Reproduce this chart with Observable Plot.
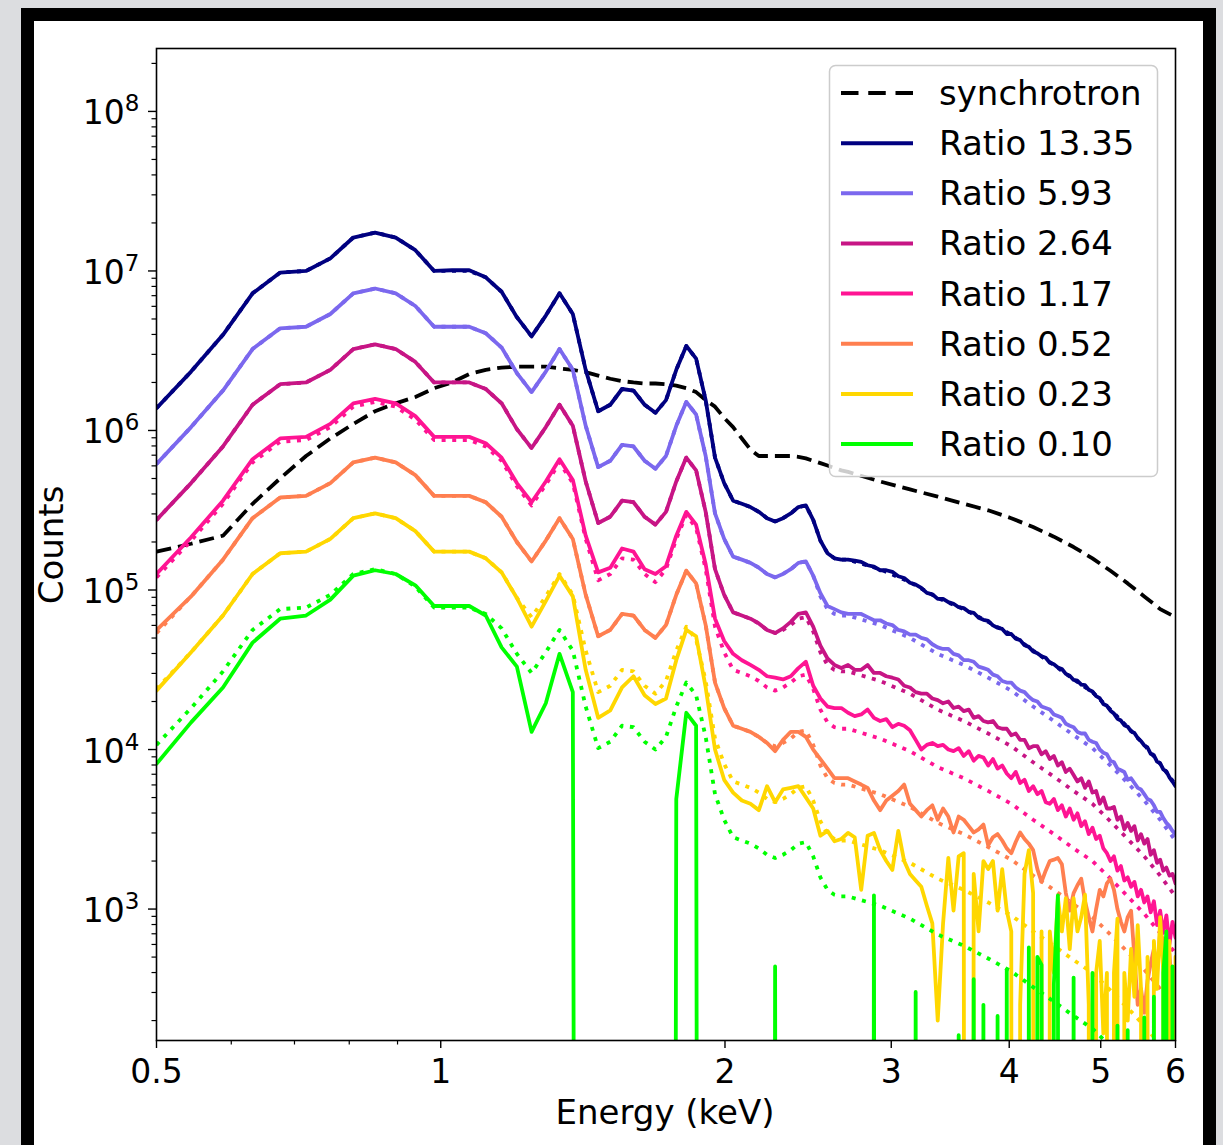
<!DOCTYPE html>
<html><head><meta charset="utf-8">
<script src="https://cdn.jsdelivr.net/npm/d3@7"></script>
<script src="https://cdn.jsdelivr.net/npm/@observablehq/plot@0.6"></script>
<style>
html,body{margin:0;padding:0;}
body{width:1223px;height:1145px;background:#dcdde0;position:relative;overflow:hidden;font-family:"DejaVu Sans",sans-serif;}
#frame{position:absolute;left:21px;top:8px;width:1195px;height:1150px;box-sizing:border-box;border:13px solid #000;background:#fff;}
#chart{position:absolute;left:0;top:0;}
#overlay{position:absolute;left:0;top:0;}
</style></head>
<body>
<div id="frame"></div>
<div id="chart"></div>
<svg id="overlay" width="1223" height="1145"></svg>
<script>
// Energy bins (keV) of the spectra
const energy = [0.500,0.544,0.588,0.632,0.676,0.720,0.764,0.808,0.852,0.896,
0.940,0.984,1.028,1.072,1.116,1.160,1.204,1.248,1.292,1.336,
1.380,1.424,1.468,1.512,1.556,1.600,1.644,1.688,1.732,1.776,
1.820,1.864,1.908,1.952,1.996,2.040,2.084,2.128,2.172,2.216,
2.260,2.304,2.348,2.392,2.436,2.480,2.524,2.568,2.612,2.656,
2.700,2.744,2.788,2.832,2.876,2.920,2.964,3.008,3.052,3.096,
3.140,3.184,3.228,3.272,3.316,3.360,3.404,3.448,3.492,3.536,
3.580,3.624,3.668,3.712,3.756,3.800,3.844,3.888,3.932,3.976,
4.020,4.064,4.108,4.152,4.196,4.240,4.284,4.328,4.372,4.416,
4.460,4.504,4.548,4.592,4.636,4.680,4.724,4.768,4.812,4.856,
4.900,4.944,4.988,5.032,5.076,5.120,5.164,5.208,5.252,5.296,
5.340,5.384,5.428,5.472,5.516,5.560,5.604,5.648,5.692,5.736,
5.780,5.824,5.868,5.912,5.956,6.000];

// Energies of the smooth model curves (dotted) and synchrotron
const energyModel = [0.500,0.544,0.588,0.632,0.676,0.720,0.764,0.808,0.852,0.896,
0.940,0.984,1.028,1.072,1.116,1.160,1.204,1.248,1.292,1.336,
1.380,1.424,1.468,1.512,1.556,1.600,1.644,1.688,1.732,1.776,
1.820,1.864,1.908,1.952,1.996,2.040,2.084,2.128,2.172,2.216,
2.260,2.304,2.348,2.392,2.436,2.480,2.524,2.568,2.612,2.656,
2.700,2.920,3.140,3.360,3.580,3.800,4.020,4.240,4.460,4.680,
4.900,5.120,5.340,5.560,5.780,6.000];

const synchrotron = [1.74e5,1.95e5,2.19e5,3.47e5,5.01e5,6.92e5,8.91e5,1.10e6,1.32e6,1.48e6,
1.62e6,1.84e6,2.00e6,2.26e6,2.40e6,2.48e6,2.51e6,2.51e6,2.51e6,2.45e6,
2.40e6,2.32e6,2.21e6,2.11e6,2.04e6,2.00e6,1.97e6,1.97e6,1.95e6,1.91e6,
1.84e6,1.74e6,1.55e6,1.41e6,1.20e6,1.05e6,8.91e5,7.59e5,6.92e5,6.92e5,
6.92e5,6.92e5,6.92e5,6.84e5,6.68e5,6.46e5,6.24e5,6.03e5,5.82e5,5.62e5,
5.50e5,4.79e5,4.27e5,3.85e5,3.47e5,3.16e5,2.82e5,2.48e5,2.16e5,1.86e5,
1.58e5,1.32e5,1.10e5,9.12e4,7.59e4,6.76e4];

// Ratio 13.35
const counts1335 = [1.38e6,2.34e6,3.98e6,7.24e6,9.77e6,1.00e7,1.20e7,1.62e7,1.74e7,1.62e7,
1.35e7,1.00e7,1.01e7,1.01e7,9.12e6,7.41e6,5.13e6,3.89e6,5.25e6,7.24e6,
5.37e6,2.40e6,1.32e6,1.45e6,1.82e6,1.78e6,1.45e6,1.29e6,1.55e6,2.40e6,
3.39e6,2.82e6,1.55e6,6.76e5,4.68e5,3.63e5,3.47e5,3.31e5,3.09e5,2.82e5,
2.69e5,2.82e5,3.02e5,3.31e5,3.39e5,2.75e5,2.04e5,1.70e5,1.58e5,1.55e5,
1.55e5,1.53e5,1.50e5,1.43e5,1.40e5,1.33e5,1.33e5,1.30e5,1.22e5,1.19e5,
1.11e5,1.08e5,1.03e5,9.6e4,9.4e4,8.8e4,8.8e4,8.4e4,8.2e4,7.8e4,
7.7e4,7.3e4,7.2e4,6.7e4,6.5e4,6.4e4,6.0e4,5.8e4,5.7e4,5.3e4,
5.3e4,4.95e4,4.85e4,4.5e4,4.4e4,4.12e4,4.02e4,3.84e4,3.76e4,3.5e4,
3.42e4,3.27e4,3.2e4,2.98e4,2.9e4,2.73e4,2.7e4,2.55e4,2.53e4,2.37e4,
2.31e4,2.16e4,2.1e4,1.93e4,1.88e4,1.75e4,1.68e4,1.56e4,1.52e4,1.42e4,
1.39e4,1.3e4,1.27e4,1.18e4,1.13e4,1.06e4,1.03e4,9.4e3,9.2e3,8.4e3,
8.2e3,7.5e3,7.3e3,6.7e3,6.3e3,5.9e3];
const model1335 = [1.38e6,2.34e6,3.98e6,7.24e6,9.77e6,1.00e7,1.20e7,1.62e7,1.74e7,1.62e7,
1.35e7,1.00e7,1.00e7,1.00e7,9.12e6,7.41e6,5.13e6,3.89e6,5.25e6,7.24e6,
5.37e6,2.40e6,1.32e6,1.45e6,1.82e6,1.78e6,1.45e6,1.29e6,1.55e6,2.40e6,
3.39e6,2.82e6,1.55e6,6.76e5,4.68e5,3.63e5,3.47e5,3.31e5,3.09e5,2.82e5,
2.69e5,2.82e5,3.02e5,3.31e5,3.39e5,2.75e5,2.04e5,1.70e5,1.58e5,1.55e5,
1.55e5,1.35e5,1.12e5,8.91e4,7.59e4,6.31e4,5.25e4,4.17e4,3.39e4,2.75e4,
2.29e4,1.78e4,1.38e4,1.07e4,8.13e3,6.03e3];

// Ratio 5.93
const counts593 = [6.17e5,1.05e6,1.78e6,3.24e6,4.37e6,4.47e6,5.37e6,7.24e6,7.76e6,7.24e6,
6.03e6,4.47e6,4.47e6,4.47e6,4.07e6,3.31e6,2.29e6,1.74e6,2.34e6,3.24e6,
2.40e6,1.07e6,5.89e5,6.46e5,8.13e5,7.94e5,6.46e5,5.75e5,6.92e5,1.07e6,
1.51e6,1.26e6,6.92e5,3.02e5,2.09e5,1.62e5,1.55e5,1.48e5,1.38e5,1.26e5,
1.20e5,1.26e5,1.35e5,1.48e5,1.51e5,1.23e5,9.55e4,7.94e4,7.59e4,7.24e4,
7.08e4,7.08e4,7.08e4,6.76e4,6.46e4,6.46e4,6.17e4,6.03e4,5.62e4,5.50e4,
5.25e4,5.25e4,5.01e4,4.90e4,4.57e4,4.37e4,4.27e4,4.27e4,3.98e4,3.89e4,
3.63e4,3.63e4,3.55e4,3.31e4,3.24e4,3.16e4,2.95e4,2.88e4,2.69e4,2.63e4,
2.63e4,2.45e4,2.34e4,2.29e4,2.14e4,2.04e4,2.00e4,1.86e4,1.82e4,1.78e4,
1.66e4,1.62e4,1.58e4,1.45e4,1.41e4,1.38e4,1.29e4,1.26e4,1.26e4,1.15e4,
1.12e4,1.10e4,1.00e4,9.55e3,9.33e3,8.51e3,8.32e3,7.59e3,7.41e3,7.24e3,
6.46e3,6.61e3,6.17e3,5.75e3,5.62e3,5.25e3,4.90e3,4.79e3,4.47e3,4.07e3,
4.07e3,3.72e3,3.47e3,3.31e3,3.09e3,2.95e3];
const model593 = [6.17e5,1.05e6,1.78e6,3.24e6,4.37e6,4.47e6,5.37e6,7.24e6,7.76e6,7.24e6,
6.03e6,4.47e6,4.47e6,4.47e6,4.07e6,3.31e6,2.29e6,1.74e6,2.34e6,3.24e6,
2.40e6,1.07e6,5.89e5,6.46e5,8.13e5,7.94e5,6.46e5,5.75e5,6.92e5,1.07e6,
1.51e6,1.26e6,6.92e5,3.02e5,2.09e5,1.62e5,1.55e5,1.48e5,1.38e5,1.26e5,
1.20e5,1.26e5,1.35e5,1.48e5,1.51e5,1.23e5,9.12e4,7.59e4,7.08e4,6.92e4,
6.92e4,6.03e4,5.01e4,3.98e4,3.39e4,2.82e4,2.34e4,1.86e4,1.51e4,1.23e4,
1.02e4,7.94e3,6.17e3,4.79e3,3.63e3,2.69e3];

// Ratio 2.64
const counts264 = [2.75e5,4.68e5,7.94e5,1.45e6,1.95e6,2.00e6,2.40e6,3.24e6,3.47e6,3.24e6,
2.69e6,2.00e6,2.00e6,2.00e6,1.82e6,1.48e6,1.02e6,7.76e5,1.05e6,1.45e6,
1.07e6,4.79e5,2.63e5,2.88e5,3.63e5,3.55e5,2.88e5,2.57e5,3.09e5,4.79e5,
6.76e5,5.62e5,3.09e5,1.35e5,9.33e4,7.24e4,6.92e4,6.61e4,6.17e4,5.62e4,
5.37e4,5.75e4,6.31e4,7.08e4,7.24e4,5.89e4,4.47e4,3.72e4,3.39e4,3.24e4,
3.39e4,3.16e4,3.16e4,3.39e4,3.02e4,3.02e4,2.88e4,2.82e4,2.75e4,2.51e4,
2.45e4,2.29e4,2.24e4,2.24e4,2.09e4,2.04e4,1.95e4,2.00e4,1.82e4,1.86e4,
1.74e4,1.78e4,1.58e4,1.62e4,1.51e4,1.48e4,1.51e4,1.38e4,1.35e4,1.35e4,
1.23e4,1.26e4,1.15e4,1.15e4,1.02e4,1.05e4,1.05e4,9.33e3,9.77e3,8.71e3,
9.12e3,7.94e3,8.32e3,7.24e3,7.59e3,6.92e3,6.31e3,6.61e3,5.75e3,6.31e3,
5.37e3,5.50e3,4.57e3,5.01e3,4.27e3,4.27e3,4.37e3,3.63e3,3.80e3,3.16e3,
3.47e3,3.09e3,3.31e3,2.69e3,2.95e3,2.57e3,2.75e3,2.19e3,2.34e3,1.95e3,
2.04e3,1.74e3,1.82e3,1.62e3,1.66e3,1.45e3];
const model264 = [2.75e5,4.68e5,7.94e5,1.45e6,1.95e6,2.00e6,2.40e6,3.24e6,3.47e6,3.24e6,
2.69e6,2.00e6,2.00e6,2.00e6,1.82e6,1.48e6,1.02e6,7.76e5,1.05e6,1.45e6,
1.07e6,4.79e5,2.63e5,2.88e5,3.63e5,3.55e5,2.88e5,2.57e5,3.09e5,4.79e5,
6.76e5,5.62e5,3.09e5,1.35e5,9.33e4,7.24e4,6.92e4,6.61e4,6.17e4,5.62e4,
5.37e4,5.62e4,6.03e4,6.61e4,6.76e4,5.50e4,4.07e4,3.39e4,3.16e4,3.09e4,
3.09e4,2.69e4,2.24e4,1.78e4,1.51e4,1.26e4,1.05e4,8.32e3,6.76e3,5.50e3,
4.57e3,3.55e3,2.75e3,2.14e3,1.62e3,1.20e3];

// Ratio 1.17
const counts117 = [1.26e5,2.14e5,3.63e5,6.61e5,8.91e5,9.12e5,1.10e6,1.48e6,1.58e6,1.48e6,
1.23e6,9.12e5,9.12e5,9.12e5,8.32e5,6.76e5,4.68e5,3.55e5,4.79e5,6.61e5,
4.90e5,2.19e5,1.29e5,1.38e5,1.82e5,1.74e5,1.35e5,1.26e5,1.41e5,2.19e5,
3.09e5,2.57e5,1.45e5,6.61e4,4.79e4,3.98e4,3.63e4,3.39e4,3.16e4,2.88e4,
2.82e4,2.75e4,2.88e4,3.24e4,3.55e4,2.51e4,2.09e4,1.86e4,1.82e4,1.82e4,
1.70e4,1.62e4,1.66e4,1.78e4,1.58e4,1.51e4,1.55e4,1.38e4,1.45e4,1.41e4,
1.32e4,1.15e4,1.00e4,1.07e4,1.10e4,1.05e4,1.07e4,1.00e4,9.77e3,1.02e4,
9.12e3,9.77e3,8.51e3,9.12e3,8.91e3,7.94e3,8.71e3,7.59e3,7.94e3,7.08e3,
6.61e3,7.24e3,6.17e3,6.46e3,5.50e3,5.89e3,5.25e3,5.50e3,4.68e3,4.57e3,
4.90e3,4.17e3,4.47e3,3.80e3,4.27e3,3.63e3,3.98e3,3.31e3,3.55e3,2.95e3,
3.24e3,2.75e3,2.88e3,2.40e3,2.24e3,2.00e3,2.14e3,1.74e3,1.86e3,1.51e3,
1.58e3,1.38e3,1.48e3,1.20e3,1.32e3,1.10e3,1.20e3,9.55e2,1.12e3,7.94e2,
9.77e2,7.08e2,9.12e2,6.03e2,8.32e2,6.61e2];
const model117 = [1.20e5,2.04e5,3.47e5,6.31e5,8.51e5,8.71e5,1.05e6,1.41e6,1.51e6,1.41e6,
1.17e6,8.71e5,8.71e5,8.71e5,7.94e5,6.46e5,4.47e5,3.39e5,4.57e5,6.31e5,
4.68e5,2.09e5,1.15e5,1.26e5,1.58e5,1.55e5,1.26e5,1.12e5,1.35e5,2.09e5,
2.95e5,2.45e5,1.35e5,5.89e4,4.07e4,3.16e4,3.02e4,2.88e4,2.69e4,2.45e4,
2.34e4,2.45e4,2.63e4,2.88e4,2.95e4,2.40e4,1.78e4,1.48e4,1.38e4,1.35e4,
1.35e4,1.17e4,9.77e3,7.76e3,6.61e3,5.50e3,4.57e3,3.63e3,2.95e3,2.40e3,
2.00e3,1.55e3,1.20e3,9.33e2,7.08e2,5.25e2];

// Ratio 0.52
const counts052 = [5.6e4,9.12e4,1.55e5,2.82e5,3.80e5,3.89e5,4.68e5,6.31e5,6.76e5,6.31e5,
5.25e5,3.89e5,3.89e5,3.89e5,3.55e5,2.88e5,2.00e5,1.51e5,2.04e5,2.82e5,
2.09e5,9.33e4,5.13e4,5.62e4,7.08e4,6.92e4,5.62e4,5.01e4,6.03e4,9.33e4,
1.32e5,1.10e5,6.03e4,2.63e4,1.82e4,1.41e4,1.35e4,1.29e4,1.20e4,1.10e4,
9.77e3,1.15e4,1.29e4,1.29e4,1.20e4,1.00e4,8.71e3,7.59e3,6.61e3,6.61e3,
6.61e3,6.31e3,6.03e3,5.75e3,4.79e3,4.17e3,4.79e3,5.13e3,5.50e3,6.03e3,
4.57e3,4.17e3,3.80e3,4.17e3,4.47e3,3.63e3,4.27e3,3.80e3,3.02e3,3.80e3,
3.63e3,3.31e3,3.02e3,3.16e3,3.39e3,2.51e3,2.82e3,2.95e3,2.69e3,2.40e3,
2.24e3,2.63e3,3.02e3,2.75e3,2.57e3,2.34e3,1.78e3,1.48e3,1.74e3,2.00e3,
2.04e3,2.09e3,1.91e3,1.26e3,9.77e2,1.26e3,1.41e3,1.55e3,1.12e3,8.91e2,
7.24e2,1.00e3,1.32e3,1.20e3,1.45e3,1.55e3,1.32e3,1.00e3,8.32e2,7.24e2,
8.91e2,9.77e2,5.01e2,2.51e2,3.16e2,2.24e2,3.55e2,4.57e2,5.62e2,3.98e2,
7.24e2,6.31e2,3.55e2,5.25e2,2.82e2,4.17e2];
const model052 = [5.37e4,9.12e4,1.55e5,2.82e5,3.80e5,3.89e5,4.68e5,6.31e5,6.76e5,6.31e5,
5.25e5,3.89e5,3.89e5,3.89e5,3.55e5,2.88e5,2.00e5,1.51e5,2.04e5,2.82e5,
2.09e5,9.33e4,5.13e4,5.62e4,7.08e4,6.92e4,5.62e4,5.01e4,6.03e4,9.33e4,
1.32e5,1.10e5,6.03e4,2.63e4,1.82e4,1.41e4,1.35e4,1.29e4,1.20e4,1.10e4,
1.05e4,1.10e4,1.17e4,1.29e4,1.32e4,1.07e4,7.94e3,6.61e3,6.17e3,6.03e3,
6.03e3,5.25e3,4.37e3,3.47e3,2.95e3,2.45e3,2.04e3,1.62e3,1.32e3,1.07e3,
8.91e2,6.92e2,5.37e2,4.17e2,3.16e2,2.34e2];

// Ratio 0.23
const counts023 = [2.34e4,4.07e4,6.92e4,1.26e5,1.70e5,1.74e5,2.09e5,2.82e5,3.02e5,2.82e5,
2.34e5,1.74e5,1.74e5,1.74e5,1.58e5,1.29e5,8.91e4,5.89e4,8.51e4,1.23e5,
9.12e4,3.16e4,1.58e4,1.76e4,2.45e4,2.88e4,2.19e4,1.93e4,2.09e4,3.63e4,
5.62e4,5.13e4,2.45e4,1.00e4,6.46e3,5.37e3,4.79e3,4.57e3,4.17e3,5.89e3,
4.68e3,5.62e3,5.75e3,5.89e3,5.01e3,4.27e3,2.88e3,3.09e3,2.66e3,2.75e3,
3.0e3,2.82e3,1.32e3,2.88e3,3.0e3,2.34e3,2.0e3,1.76e3,3.09e3,2.0e3,
1.66e3,1.51e3,1.38e3,1.05e3,8.13e2,2.0e2,8.13e2,2.09e3,9.77e2,2.14e3,
2.24e3,0,1.66e3,7.24e2,2.0e3,1.78e3,2.0e3,9.77e2,1.78e3,9.77e2,
7.24e2,0,2.51e2,1.66e3,2.34e3,1.26e3,0,7.24e2,0,7.24e2,
3.98e2,1.17e3,7.24e2,1.17e3,5.62e2,1.17e3,7.24e2,8.91e2,1.23e3,2.51e2,
0,3.98e2,6.31e2,1.66e2,3.98e2,0,3.98e2,8.71e2,0,3.98e2,
2.0e2,5.62e2,2.82e2,7.94e2,3.16e2,0,5.01e2,0,6.31e2,3.16e2,
8.91e2,3.98e2,0,6.31e2,0,5.01e2];
const model023 = [2.40e4,4.07e4,6.92e4,1.26e5,1.70e5,1.74e5,2.09e5,2.82e5,3.02e5,2.82e5,
2.34e5,1.74e5,1.74e5,1.74e5,1.58e5,1.29e5,8.91e4,6.76e4,9.12e4,1.26e5,
9.33e4,4.17e4,2.29e4,2.51e4,3.16e4,3.09e4,2.51e4,2.24e4,2.69e4,4.17e4,
5.89e4,4.90e4,2.69e4,1.17e4,8.13e3,6.31e3,6.03e3,5.75e3,5.37e3,4.90e3,
4.68e3,4.90e3,5.25e3,5.75e3,5.89e3,4.79e3,3.55e3,2.95e3,2.75e3,2.69e3,
2.69e3,2.34e3,1.95e3,1.55e3,1.32e3,1.10e3,9.12e2,7.24e2,5.89e2,4.79e2,
3.98e2,3.09e2,2.40e2,1.86e2,1.41e2,1.05e2];

// Ratio 0.10
const counts010 = [8.13e3,1.48e4,2.45e4,4.68e4,6.61e4,6.92e4,8.71e4,1.23e5,1.33e5,1.26e5,
1.07e5,7.94e4,7.94e4,7.94e4,6.92e4,4.37e4,3.31e4,1.29e4,1.95e4,3.98e4,
2.29e4,0,0,0,0,0,0,0,0,4.90e3,
1.70e4,1.41e4,0,0,0,0,0,0,0,0,
4.37e2,0,0,0,0,0,0,0,0,0,
0,0,0,0,1.22e3,0,0,0,0,0,
0,3.02e2,0,0,0,0,0,0,0,1.62e2,
0,0,3.63e2,0,2.51e2,0,0,2.14e2,0,4.17e2,
0,0,0,0,5.75e2,0,5.01e2,4.47e2,0,0,
3.39e2,1.22e3,0,0,0,3.72e2,0,0,0,0,
3.98e2,0,0,0,0,0,0,1.86e2,0,0,
1.74e2,0,0,0,0,2.09e2,0,0,2.82e2,0,
0,3.98e2,7.24e2,0,4.37e2,0];
const model010 = [1.07e4,1.82e4,3.09e4,5.62e4,7.59e4,7.76e4,9.33e4,1.26e5,1.35e5,1.26e5,
1.05e5,7.76e4,7.76e4,7.76e4,7.08e4,5.75e4,3.98e4,3.02e4,4.07e4,5.62e4,
4.17e4,1.86e4,1.02e4,1.12e4,1.41e4,1.38e4,1.12e4,1.00e4,1.20e4,1.86e4,
2.63e4,2.19e4,1.20e4,5.25e3,3.63e3,2.82e3,2.69e3,2.57e3,2.40e3,2.19e3,
2.09e3,2.19e3,2.34e3,2.57e3,2.63e3,2.14e3,1.58e3,1.32e3,1.23e3,1.20e3,
1.20e3,1.05e3,8.71e2,6.92e2,5.89e2,4.90e2,4.07e2,3.24e2,2.63e2,2.14e2,
1.78e2,1.38e2,1.07e2,8.32e1,6.31e1,4.68e1];

const seriesLabels = ["Ratio 13.35","Ratio 5.93","Ratio 2.64","Ratio 1.17","Ratio 0.52","Ratio 0.23","Ratio 0.10"];
const seriesColors = ["#000080","#7b68ee","#c71585","#ff1493","#ff7f50","#ffd700","#00ff00"];
const seriesCounts = [counts1335,counts593,counts264,counts117,counts052,counts023,counts010];
const seriesModels = [model1335,model593,model264,model117,model052,model023,model010];

const yMajor = [1e3,1e4,1e5,1e6,1e7,1e8];
const yMinor = [2e2,3e2,4e2,5e2,6e2,7e2,8e2,9e2,2e3,3e3,4e3,5e3,6e3,7e3,8e3,9e3,
2e4,3e4,4e4,5e4,6e4,7e4,8e4,9e4,2e5,3e5,4e5,5e5,6e5,7e5,8e5,9e5,
2e6,3e6,4e6,5e6,6e6,7e6,8e6,9e6,2e7,3e7,4e7,5e7,6e7,7e7,8e7,9e7,2e8];
const xMajor = [0.5,1,2,3,4,5,6];
const xMinor = [0.6,0.7,0.8,0.9];

const supDigits = {"3":"\u00b3","4":"\u2074","5":"\u2075","6":"\u2076","7":"\u2077","8":"\u2078"};
const powFmt = d => "10" + supDigits[String(Math.round(Math.log10(d)))];

// matplotlib clips non-positive values on a log axis: send them far below the frame
const yClip = d => (d.v > 0 ? d.v : 1e-30);
const rows = (xs, vs) => xs.map((e, i) => ({e, v: vs[i]}));

const LW = 3.8;
const marks = [];
marks.push(Plot.line(rows(energyModel, synchrotron), {x: "e", y: "v", stroke: "#000", strokeWidth: LW, strokeDasharray: "15,7", strokeLinecap: "butt", clip: true}));
seriesLabels.forEach((lab, k) => {
  marks.push(Plot.line(rows(energy, seriesCounts[k]), {x: "e", y: yClip, stroke: seriesColors[k], strokeWidth: LW, strokeLinejoin: "round", clip: true}));
  marks.push(Plot.line(rows(energyModel, seriesModels[k]), {x: "e", y: "v", stroke: seriesColors[k], strokeWidth: LW, strokeDasharray: "4,6.6", strokeLinecap: "butt", clip: true}));
});
marks.push(Plot.frame({stroke: "#000", strokeWidth: 1.6}));
marks.push(Plot.axisY({ticks: yMajor, tickSize: 8, tickPadding: 9, tickFormat: powFmt, fontSize: 33, strokeWidth: 1.4, label: null}));
marks.push(Plot.axisY({ticks: yMinor, tickSize: 4.5, tickFormat: () => "", strokeWidth: 1.2, label: null}));
marks.push(Plot.axisX({ticks: xMajor, tickSize: 8, tickPadding: 11, tickFormat: d => String(d), fontSize: 33, strokeWidth: 1.4, label: null}));
marks.push(Plot.axisX({ticks: xMinor, tickSize: 4.5, tickFormat: () => "", strokeWidth: 1.2, label: null}));

const chart = Plot.plot({
  width: 1223, height: 1145,
  marginLeft: 156, marginRight: 48, marginTop: 48, marginBottom: 105,
  style: {background: "transparent", fontFamily: "DejaVu Sans", fontSize: "33px", color: "#000", overflow: "visible"},
  x: {type: "log", domain: [0.5, 6]},
  y: {type: "log", domain: [150, 2.48e8]},
  marks
});
document.getElementById("chart").append(chart);

const ns = "http://www.w3.org/2000/svg";

// Render the y tick labels as 10 with a real superscript exponent (like mathtext)
const plainDigit = {};
for (const k in supDigits) plainDigit[supDigits[k]] = k;
chart.querySelectorAll('g[aria-label="y-axis tick label"] text').forEach(t => {
  const s = t.textContent;
  const expChar = s.slice(2);
  if (!s.startsWith("10") || !(expChar in plainDigit)) return;
  t.textContent = "";
  t.setAttribute("dy", "2.4");
  const base = document.createElementNS(ns, "tspan");
  base.textContent = "10";
  const sup = document.createElementNS(ns, "tspan");
  sup.setAttribute("dy", "-13");
  sup.setAttribute("font-size", "23");
  sup.textContent = plainDigit[expChar];
  t.append(base, sup);
});

// Legend and axis titles
const ov = document.getElementById("overlay");
function el(tag, attrs, text) {
  const n = document.createElementNS(ns, tag);
  for (const k in attrs) n.setAttribute(k, attrs[k]);
  if (text != null) n.textContent = text;
  ov.appendChild(n);
  return n;
}
el("text", {x: 665, y: 1124, "text-anchor": "middle", "font-family": "DejaVu Sans", "font-size": 34, fill: "#000"}, "Energy (keV)");
el("text", {transform: "translate(63,545) rotate(-90)", "text-anchor": "middle", "font-family": "DejaVu Sans", "font-size": 34, fill: "#000"}, "Counts");
el("rect", {x: 829.5, y: 65.5, width: 328, height: 411, rx: 6, ry: 6, fill: "#fff", "fill-opacity": 0.8, stroke: "#cccccc", "stroke-width": 1.5});
const legendNames = ["synchrotron"].concat(seriesLabels);
const legendColors = ["#000"].concat(seriesColors);
legendNames.forEach((name, k) => {
  const y = 93 + 50.15 * k;
  const ln = el("line", {x1: 841, x2: 913, y1: y, y2: y, stroke: legendColors[k], "stroke-width": 4, "stroke-linecap": "butt"});
  if (k === 0) ln.setAttribute("stroke-dasharray", "17.5,9.75");
  el("text", {x: 939, y: y + 12, "font-family": "DejaVu Sans", "font-size": 34, fill: "#000"}, name);
});
</script>
</body></html>
